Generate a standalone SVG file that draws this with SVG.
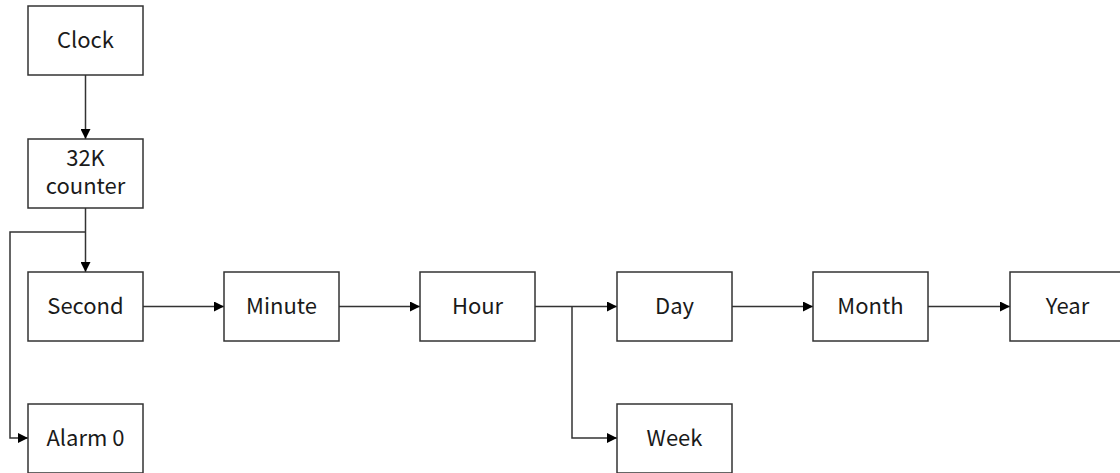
<svg xmlns="http://www.w3.org/2000/svg" width="1120" height="473" viewBox="0 0 1120 473">
  <style>
    .box { fill: #ffffff; stroke: #333333; stroke-width: 1.5; }
    .label { font-family: "Noto Sans CJK SC", "Noto Sans", sans-serif; font-size: 22px; fill: #1a1a1a; text-anchor: middle; }
    .wire { fill: none; stroke: #333333; stroke-width: 1.5; }
  </style>
  <defs>
    <marker id="arrow" viewBox="0 0 10 10" refX="10" refY="5" markerWidth="10" markerHeight="10" markerUnits="userSpaceOnUse" orient="auto">
      <path d="M0,0 L10,5 L0,10 Z" fill="#000000"/>
    </marker>
  </defs>
  <rect width="1120" height="473" fill="#ffffff"/>

  <g id="connectors">
    <path class="wire" d="M85.5,75 V139" marker-end="url(#arrow)"/>
    <path class="wire" d="M85.5,208 V272" marker-end="url(#arrow)"/>
    <path class="wire" d="M85.5,232 H10 V438 H28" marker-end="url(#arrow)"/>
    <path class="wire" d="M143,306.5 H224" marker-end="url(#arrow)"/>
    <path class="wire" d="M339,306.5 H420" marker-end="url(#arrow)"/>
    <path class="wire" d="M535,306.5 H617" marker-end="url(#arrow)"/>
    <path class="wire" d="M572,306.5 V438 H617" marker-end="url(#arrow)"/>
    <path class="wire" d="M732,306.5 H813" marker-end="url(#arrow)"/>
    <path class="wire" d="M928,306.5 H1010" marker-end="url(#arrow)"/>
  </g>

  <g id="clock">
    <rect class="box" x="28" y="6" width="115" height="69"/>
    <text class="label" x="85.5" y="48">Clock</text>
  </g>
  <g id="counter">
    <rect class="box" x="28" y="139" width="115" height="69"/>
    <text class="label" x="85.5" y="166">32K</text>
    <text class="label" x="85.5" y="194">counter</text>
  </g>
  <g id="second">
    <rect class="box" x="28" y="272" width="115" height="69"/>
    <text class="label" x="85.5" y="314">Second</text>
  </g>
  <g id="alarm0">
    <rect class="box" x="28" y="404" width="115" height="69"/>
    <text class="label" x="85.5" y="446">Alarm 0</text>
  </g>
  <g id="minute">
    <rect class="box" x="224" y="272" width="115" height="69"/>
    <text class="label" x="281.5" y="314">Minute</text>
  </g>
  <g id="hour">
    <rect class="box" x="420" y="272" width="115" height="69"/>
    <text class="label" x="477.5" y="314">Hour</text>
  </g>
  <g id="day">
    <rect class="box" x="617" y="272" width="115" height="69"/>
    <text class="label" x="674.5" y="314">Day</text>
  </g>
  <g id="week">
    <rect class="box" x="617" y="404" width="115" height="69"/>
    <text class="label" x="674.5" y="446">Week</text>
  </g>
  <g id="month">
    <rect class="box" x="813" y="272" width="115" height="69"/>
    <text class="label" x="870.5" y="314">Month</text>
  </g>
  <g id="year">
    <rect class="box" x="1010" y="272" width="115" height="69"/>
    <text class="label" x="1067.5" y="314">Year</text>
  </g>
</svg>
